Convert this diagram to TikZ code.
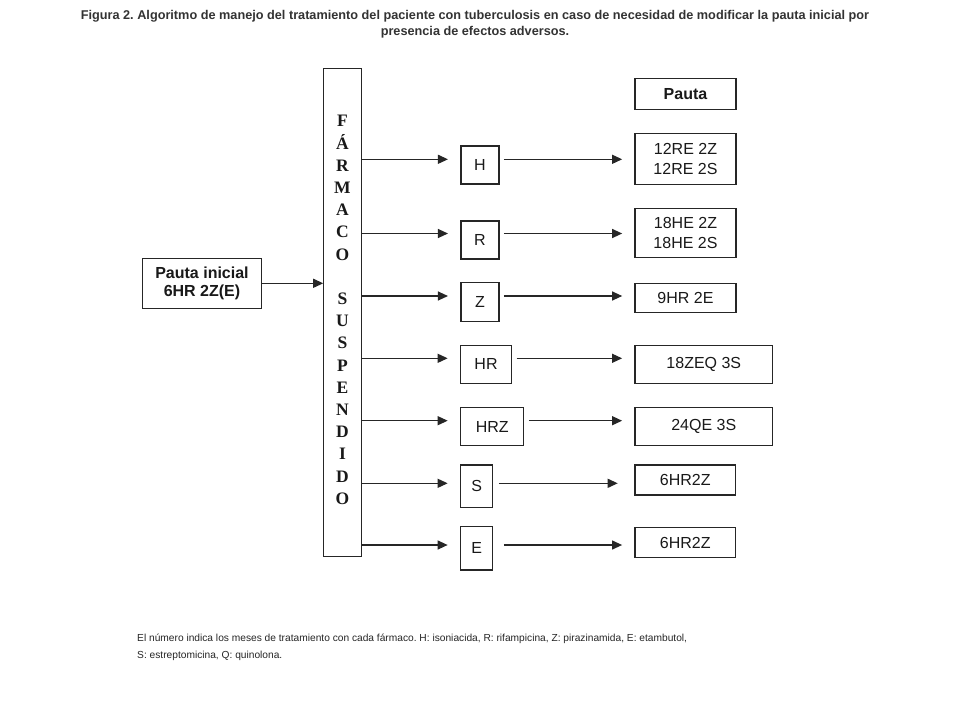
\documentclass[tikz,border=0pt]{standalone}
\usepackage{fontspec}
\setmainfont{Liberation Sans}
\newfontfamily\serifb{Liberation Serif}
\usetikzlibrary{arrows.meta}
\frenchspacing
\begin{document}
\begin{tikzpicture}[x=1pt,y=-1pt,
  bx/.style={draw=black!85, line width=1.1pt, inner sep=0pt, align=center, text=black!90,
    font=\fontsize{16}{19.7}\selectfont},
  arr/.style={draw=black!85, line width=1.2pt, -{Triangle[length=10pt,width=9pt]}},
  ttl/.style={font=\bfseries\fontsize{12.7}{16}\selectfont, text=black!80, anchor=base, inner sep=0pt},
  foot/.style={font=\fontsize{10.2}{14}\selectfont, text=black!85, anchor=base west, inner sep=0pt}]
\useasboundingbox (0,0) rectangle (960,720);
\fill[white] (0,0) rectangle (960,720);

% title and footnote
\node[ttl] (t1) at (475,19.5) {Figura 2. Algoritmo de manejo del tratamiento del paciente con tuberculosis en caso de necesidad de modificar la pauta inicial por};
\node[ttl] (t2) at (475,35) {presencia de efectos adversos.};
\node[foot] (f1) at (137,641) {El número indica los meses de tratamiento con cada fármaco. H: isoniacida, R: rifampicina, Z: pirazinamida, E: etambutol,};
\node[foot] (f2) at (137,658) {S: estreptomicina, Q: quinolona.};

% vertical bar
\node[bx, minimum width=37.5pt, minimum height=488pt] (bar) at (342.5,312.5) {};
\node[font=\serifb\bfseries\fontsize{17.5}{22.2}\selectfont, align=center, inner sep=0pt, text=black!90] (lbl) at (342.5,310)
  {F\\Á\\R\\M\\A\\C\\O\\[22.2pt]S\\U\\S\\P\\E\\N\\D\\I\\D\\O};

% initial regimen
\node[bx, font=\bfseries\fontsize{16}{18.3}\selectfont, minimum width=119.4pt, minimum height=50pt] (ini) at (202,283.3) {Pauta inicial\\6HR 2Z(E)};
\draw[arr] (ini.east) -- (bar.west |- ini.east);

% drug boxes
\node[bx, minimum width=38pt, minimum height=38pt] (H) at (480,165) {H};
\node[bx, minimum width=38pt, minimum height=38pt] (R) at (480,240) {R};
\node[bx, minimum width=38pt, minimum height=38.3pt] (Z) at (480,301.9) {Z};
\node[bx, minimum width=50.6pt, minimum height=38.3pt] (HR) at (486,364.2) {HR};
\node[bx, minimum width=63pt, minimum height=38pt] (HRZ) at (492.2,426.7) {HRZ};
\node[bx, minimum width=32pt, minimum height=42.7pt] (S) at (476.7,486.3) {S};
\node[bx, minimum width=32pt, minimum height=43.3pt] (E) at (476.7,548.3) {E};

% result boxes
\node[bx, font=\bfseries\fontsize{16}{19.7}\selectfont, minimum width=101pt, minimum height=31pt] (P) at (685.5,93.8) {Pauta};
\node[bx, minimum width=101pt, minimum height=50.7pt] (pH) at (685.5,158.7) {12RE 2Z\\12RE 2S};
\node[bx, minimum width=101pt, minimum height=49.4pt] (pR) at (685.5,233) {18HE 2Z\\18HE 2S};
\node[bx, minimum width=101pt, minimum height=29.4pt] (pZ) at (685.5,298) {9HR 2E};
\node[bx, minimum width=137.7pt, minimum height=38.3pt] (pHR) at (703.8,364.2) {\raisebox{3pt}{18ZEQ 3S}};
\node[bx, minimum width=137.7pt, minimum height=38pt] (pHRZ) at (703.8,426.7) {\raisebox{2pt}{24QE 3S}};
\node[bx, minimum width=100.7pt, minimum height=30pt] (pS) at (685.3,480) {6HR2Z};
\node[bx, minimum width=100.7pt, minimum height=30.4pt] (pE) at (685.3,542.5) {6HR2Z};

% arrow levels
\coordinate (yH) at (0,159.3);
\coordinate (yR) at (0,233.5);
\coordinate (yZ) at (0,296);
\coordinate (yHR) at (0,358.3);
\coordinate (yHRZ) at (0,420.7);
\coordinate (yS) at (0,483.3);
\coordinate (yE) at (0,545);

\foreach \d in {H, R, Z, HR, HRZ, S, E}{
  \draw[arr, shorten >=12.5pt] (bar.east |- y\d) -- (\d.west |- y\d);
}
\draw[arr, shorten <=4.3pt, shorten >=12.3pt] (H.east |- yH) -- (pH.west |- yH);
\draw[arr, shorten <=4.3pt, shorten >=12.3pt] (R.east |- yR) -- (pR.west |- yR);
\draw[arr, shorten <=4.3pt, shorten >=12.3pt] (Z.east |- yZ) -- (pZ.west |- yZ);
\draw[arr, shorten <=4.7pt, shorten >=12.3pt] (HR.east |- yHR) -- (pHR.west |- yHR);
\draw[arr, shorten <=4.6pt, shorten >=12.3pt] (HRZ.east |- yHRZ) -- (pHRZ.west |- yHRZ);
\draw[arr, shorten <=5.6pt, shorten >=16.7pt] (S.east |- yS) -- (pS.west |- yS);
\draw[arr, shorten <=10.6pt, shorten >=12.3pt] (E.east |- yE) -- (pE.west |- yE);
\end{tikzpicture}
\end{document}
